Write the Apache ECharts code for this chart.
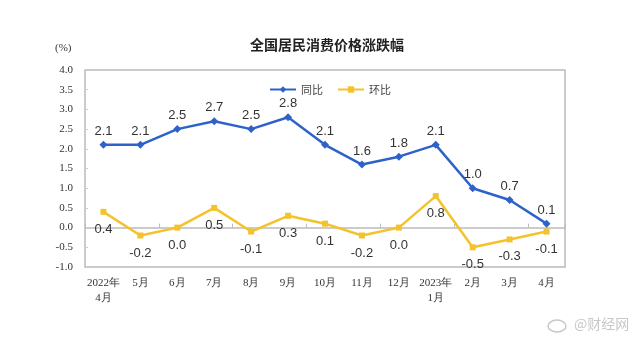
<!DOCTYPE html>
<html><head><meta charset="utf-8">
<script src="https://cdn.jsdelivr.net/npm/echarts@6/dist/echarts.min.js"></script>
<style>html,body{margin:0;padding:0;background:#fff}#c{width:643px;height:344px}</style>
</head><body><div id="c"></div>
<script>
const categories = ['2022年\n4月','5月','6月','7月','8月','9月','10月','11月','12月','2023年\n1月','2月','3月','4月'];
const yoy = [2.1,2.1,2.5,2.7,2.5,2.8,2.1,1.6,1.8,2.1,1.0,0.7,0.1];
const mom = [0.4,-0.2,0.0,0.5,-0.1,0.3,0.1,-0.2,0.0,0.8,-0.5,-0.3,-0.1];
const yTicks = {min:-1, max:4, interval:0.5};

const chart = echarts.init(document.getElementById('c'), null, {renderer:'canvas'});
const serif = '"Liberation Serif","DejaVu Serif",serif';
const sans = '"Liberation Sans","Noto Sans CJK SC",sans-serif';
chart.setOption({
  backgroundColor:'#fff',
  animation:false,
  title:{text:'全国居民消费价格涨跌幅', left:245, top:33,
    textStyle:{fontSize:14, fontWeight:'bold', color:'#222', fontFamily:'"Noto Sans CJK SC",sans-serif'}},
  graphic:[
    {type:'text', left:55, top:43, style:{text:'(%)', font:'11px '+serif, fill:'#333'}},
    {type:'ellipse', shape:{cx:557, cy:326, rx:9, ry:6}, style:{fill:'none', stroke:'#c8c8c8', lineWidth:1.5}},
    {type:'text', left:574, top:317, style:{text:'@财经网', font:'14px "Noto Sans CJK SC"', fill:'#c8c8c8'}}
  ],
  legend:{top:79, left:264, itemWidth:26, itemHeight:8, itemGap:14,
    textStyle:{fontSize:11, color:'#444', fontFamily:'"Noto Sans CJK SC",sans-serif'},
    data:['同比','环比']},
  grid:{left:85, right:78, top:70, bottom:77, show:true, borderColor:'#bbb', borderWidth:1.5},
  xAxis:[{
    type:'category', data:categories, boundaryGap:true, position:'bottom',
    axisLine:{onZero:false, show:false}, axisTick:{show:false},
    axisLabel:{interval:0, fontFamily:serif, fontSize:11, color:'#333', margin:9, lineHeight:15}
  },{
    type:'category', data:categories, boundaryGap:true, position:'bottom',
    axisLine:{onZero:true, show:true, lineStyle:{color:'#bbb', width:1.5}},
    axisTick:{show:true, inside:true, length:4, lineStyle:{color:'#bbb'}},
    axisLabel:{show:false}
  }],
  yAxis:{type:'value', min:yTicks.min, max:yTicks.max, interval:yTicks.interval,
    splitLine:{show:false}, axisLine:{show:false},
    axisTick:{show:true, inside:true, length:3, lineStyle:{color:'#ccc'}},
    axisLabel:{fontFamily:serif, fontSize:11, color:'#333', margin:12,
      formatter:v=>v.toFixed(1)}},
  series:[{
    name:'同比', type:'line', data:yoy, xAxisIndex:0,
    symbol:'diamond', symbolSize:8,
    lineStyle:{color:'#2F62C9', width:2.5}, itemStyle:{color:'#2F62C9'},
    label:{show:true, position:'top', distance:3, formatter:p=>p.value.toFixed(1),
      fontFamily:sans, fontSize:13, color:'#333'}
  },{
    name:'环比', type:'line', data:mom, xAxisIndex:0,
    symbol:'rect', symbolSize:6,
    lineStyle:{color:'#F4C22B', width:2.5}, itemStyle:{color:'#F4C22B'},
    label:{show:true, position:'bottom', distance:8, formatter:p=>p.value.toFixed(1),
      fontFamily:sans, fontSize:13, color:'#333'}
  }]
});
</script></body></html>
